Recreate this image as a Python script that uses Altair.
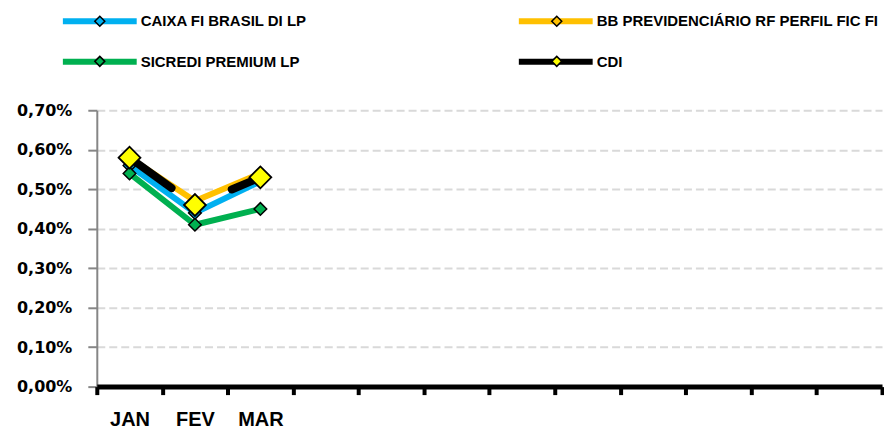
import altair as alt
import pandas as pd

months = ["JAN", "FEV", "MAR", "ABR", "MAI", "JUN", "JUL", "AGO", "SET", "OUT", "NOV", "DEZ"]
shown_months = ["JAN", "FEV", "MAR"]
series_names = ["CAIXA FI BRASIL DI LP", "BB PREVIDENCIÁRIO RF PERFIL FIC FI",
                "SICREDI PREMIUM LP", "CDI"]
caixa = [0.56, 0.44, 0.52]
bb = [0.58, 0.47, 0.54]
sicredi = [0.54, 0.41, 0.45]
cdi = [0.58, 0.46, 0.53]
y_ticks = [0.0, 0.1, 0.2, 0.3, 0.4, 0.5, 0.6, 0.7]

line_colors = ["#00B0F0", "#FFC000", "#00B050", "#000000"]
marker_fills = ["#00B0F0", "#FFC000", "#00B050", "#FFFF00"]

# marker legend uses its own key (zero-width suffix) so it is not merged with the line legend
marker_keys = [s + "\u200b" for s in series_names]

rows = []
for name, mkey, vals in zip(series_names, marker_keys, [caixa, bb, sicredi, cdi]):
    for m, v in zip(shown_months, vals):
        rows.append({"month": m, "series": name, "marker": mkey, "value": v})
df = pd.DataFrame(rows)

x_enc = alt.X(
    "month:N",
    scale=alt.Scale(type="band", domain=months, paddingInner=0, paddingOuter=0),
    axis=alt.Axis(
        title=None, labelAngle=0,
        labelExpr="indexof(" + str(shown_months) + ", datum.value) >= 0 ? datum.value : ''",
        labelFont="Liberation Sans", labelFontSize=20, labelFontWeight="bold",
        labelColor="black", labelPadding=15,
        tickSize=8, tickWidth=4, tickColor="black", tickBand="extent",
        domainColor="black", domainWidth=5, grid=False, zindex=1,
    ),
)
y_enc = alt.Y(
    "value:Q",
    scale=alt.Scale(domain=[0, 0.7], nice=False, zero=True),
    axis=alt.Axis(
        title=None, values=y_ticks,
        labelExpr="replace(format(datum.value, '.2f'), '.', ',') + '%'",
        labelFont="DejaVu Sans", labelFontSize=16, labelFontWeight="bold",
        labelColor="black", labelPadding=16,
        tickSize=9, tickWidth=2, tickColor="#868686",
        domainColor="#868686", domainWidth=2,
        grid=True, gridColor="#D9D9D9", gridDash=[8, 4], gridWidth=2,
    ),
)

line_legend = alt.Legend(
    orient="none", legendX=-34, legendY=-101, columns=2, columnPadding=199,
    rowPadding=16, padding=0, title=None, labelOffset=55, direction="horizontal",
    labelFont="Liberation Sans", labelFontSize=15, labelFontWeight="bold",
    labelColor="black", labelLimit=0,
    symbolType="M-1.353,0H7.353", symbolSize=289, symbolStrokeWidth=6,
    symbolDash=[1000, 0], symbolFillColor="transparent",
)

big_d = "M-1.279,0M2.372,-0.465L2.837,0L2.372,0.465L1.907,0Z"
point_legend = alt.Legend(
    orient="none", legendX=-34, legendY=-101, columns=2, columnPadding=407,
    rowPadding=20.5, padding=0, title=None, direction="horizontal",
    labelExpr="''", labelFontSize=15,
    symbolType=big_d, symbolSize=462.25, symbolStrokeWidth=1.5,
    symbolStrokeColor="black",
)

stroke_scale = alt.Scale(domain=series_names, range=line_colors)
fill_scale = alt.Scale(domain=marker_keys, range=marker_fills)

base = alt.Chart(df)
layers = []
for name in series_names:
    sub = base.transform_filter(alt.datum.series == name)
    if name == "CDI":
        ln = sub.mark_line(strokeWidth=8, strokeCap="round", strokeJoin="round",
                           strokeDash=[52, 69, 200, 1])
        pt = sub.mark_point(shape="diamond", filled=True, size=480, stroke="black",
                            strokeWidth=1.8, opacity=1)
    else:
        ln = sub.mark_line(strokeWidth=6, strokeJoin="round")
        pt = sub.mark_point(shape="diamond", filled=True, size=160, stroke="black",
                            strokeWidth=1.5, opacity=1)
    layers.append(ln.encode(x=x_enc, y=y_enc,
                            stroke=alt.Stroke("series:N", scale=stroke_scale, legend=line_legend)))
    layers.append(pt.encode(x=x_enc, y=y_enc,
                            fill=alt.Fill("marker:N", scale=fill_scale, legend=point_legend)))

chart = alt.layer(*layers).properties(
    width=787, height=277,
    padding={"left": 8, "top": 1, "right": 0, "bottom": 0},
    background="white",
).configure_view(stroke=None)

chart.save("out.html", embed_options={"renderer": "svg", "actions": False})
